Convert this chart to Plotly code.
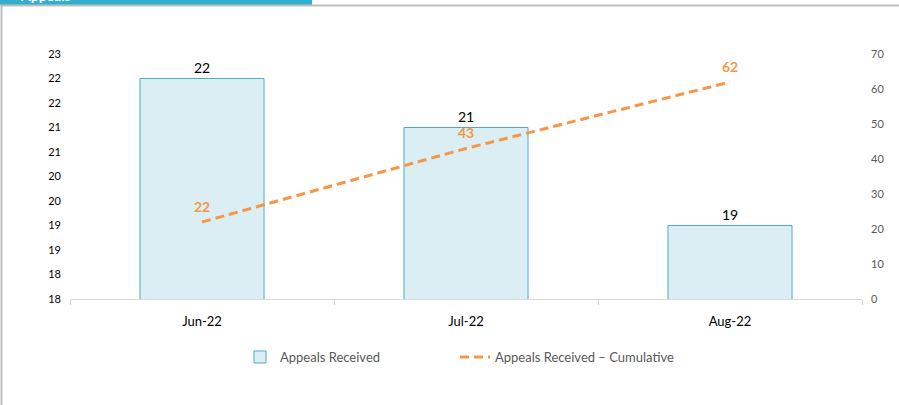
import plotly.graph_objects as go

months = ["Jun-22", "Jul-22", "Aug-22"]
received = [22, 21, 19]
cumulative = [22, 43, 62]
left_tickvals = [17.5, 18, 18.5, 19, 19.5, 20, 20.5, 21, 21.5, 22, 22.5]
left_ticktext = ["18", "18", "19", "19", "20", "20", "21", "21", "22", "22", "23"]
right_tickvals = [0, 10, 20, 30, 40, 50, 60, 70]

W, H = 899, 405
L, R, T, B = 70, 37, 54, 106
PW, PH = W - L - R, H - T - B

def px(x):
    return (x - L) / PW

def py(y):
    return (H - B - y) / PH

FONT = "Lato, 'Open Sans', sans-serif"

fig = go.Figure()
fig.add_trace(go.Bar(
    x=months, y=received, name="Appeals Received",
    marker=dict(color="#DAEEF3", line=dict(color="#4BACC6", width=1)),
    width=0.47,
    text=[str(v) for v in received], textposition="outside",
    textfont=dict(family=FONT, size=14, color="#000000"),
    cliponaxis=False,
    yaxis="y", legend="legend",
))
fig.add_trace(go.Scatter(
    x=months, y=cumulative, name="Appeals Received \u2013 Cumulative",
    mode="lines",
    line=dict(color="#F79646", width=3, dash="9px,5px"),
    cliponaxis=False,
    yaxis="y2", legend="legend2",
))
for m, v in zip(months, cumulative):
    fig.add_annotation(x=m, y=v, xref="x", yref="y2", yshift=16,
                       text="<b>%d</b>" % v, showarrow=False,
                       font=dict(family=FONT, size=14, color="#F79646"))

legend_common = dict(orientation="h", yanchor="middle", y=py(357), xanchor="left",
                     font=dict(family=FONT, size=13, color="#595959"),
                     itemwidth=30, bgcolor="rgba(0,0,0,0)")

fig.update_layout(
    width=W, height=H,
    margin=dict(l=L, r=R, t=T, b=B, pad=0),
    paper_bgcolor="white", plot_bgcolor="white",
    font=dict(family=FONT, size=11, color="#262626"),
    showlegend=True,
    legend=dict(x=px(240), **legend_common),
    legend2=dict(x=px(455), **legend_common),
    xaxis=dict(type="category", range=[-0.5, 2.5], showgrid=False,
               showline=True, linecolor="#D9D9D9", linewidth=1,
               ticks="outside", tickson="boundaries", ticklen=5, tickcolor="#D9D9D9",
               ticklabelstandoff=10,
               tickfont=dict(family=FONT, size=13, color="#000000"), zeroline=False),
    yaxis=dict(range=[17.5, 22.5], tickvals=left_tickvals, ticktext=left_ticktext,
               showgrid=False, zeroline=False, showline=False, ticks="",
               ticklabelstandoff=8,
               tickfont=dict(family=FONT, size=11, color="#000000")),
    yaxis2=dict(range=[0, 70], tickvals=right_tickvals, overlaying="y", side="right",
                showgrid=False, zeroline=False, showline=False, ticks="",
                ticklabelstandoff=8,
                tickfont=dict(family=FONT, size=11, color="#595959")),
)

# frame decoration: header bar, top and left borders
fig.add_shape(type="rect", xref="paper", yref="paper",
              x0=px(0), x1=px(312), y0=py(5), y1=py(-5),
              fillcolor="#31AFD1", line=dict(width=0), layer="above")
fig.add_shape(type="line", xref="paper", yref="paper",
              x0=px(0), x1=px(W), y0=py(5.5), y1=py(5.5),
              line=dict(color="#BFBFBF", width=2))
fig.add_shape(type="line", xref="paper", yref="paper",
              x0=px(1.5), x1=px(1.5), y0=py(5), y1=py(H + 5),
              line=dict(color="#BFBFBF", width=2))
fig.add_annotation(text="<b>Appeals</b>", xref="paper", yref="paper",
                   x=px(18), y=py(-5), xanchor="left", yanchor="middle",
                   showarrow=False, font=dict(family=FONT, size=14, color="white"))

fig.write_html("out.html", config={"displayModeBar": False},
               post_script="document.body.style.margin='0';document.body.style.overflow='hidden';")
